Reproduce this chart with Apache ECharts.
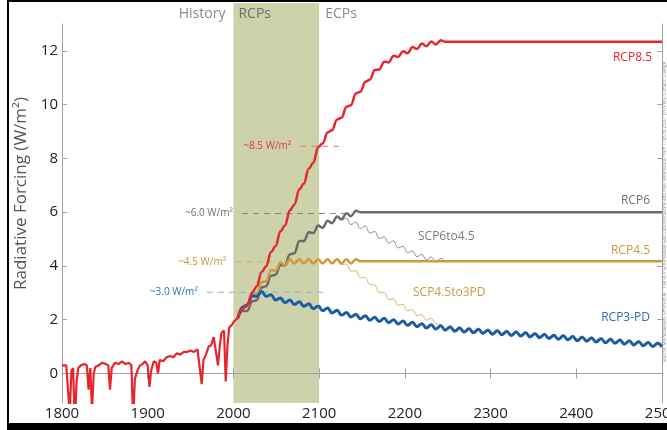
<!DOCTYPE html>
<html>
<head>
<meta charset="utf-8">
<script src="https://cdn.jsdelivr.net/npm/echarts@6/dist/echarts.min.js"></script>
<style>
  html, body { margin: 0; padding: 0; background: #fff; }
  #chart { width: 667px; height: 430px; }
</style>
</head>
<body>
<div id="chart"></div>
<script>
// historical forcing, 1800-2005
const histYears = [1800, 1805, 1807, 1809, 1811, 1813, 1815, 1817, 1819, 1822, 1826, 1829, 1831, 1833, 1835, 1837, 1839, 1843, 1847, 1851, 1854, 1856, 1858, 1862, 1866, 1870, 1874, 1878, 1881, 1883, 1885, 1888, 1891, 1894, 1897, 1900, 1902, 1904, 1907, 1910, 1912, 1914, 1918, 1922, 1926, 1930, 1934, 1938, 1942, 1946, 1950, 1954, 1958, 1960, 1963, 1965, 1968, 1971, 1974, 1977, 1979, 1982, 1984, 1986, 1989, 1991, 1993, 1995, 1998, 2001, 2003, 2005];
const histValues = [0.3, 0.3, 0.25, -1.5, 0.1, 0.2, -2.0, -0.3, 0.2, 0.3, 0.35, 0.3, -0.6, 0.2, -1.4, 0.0, 0.25, 0.3, 0.4, 0.35, 0.3, -0.6, 0.2, 0.4, 0.35, 0.45, 0.35, 0.4, 0.3, -1.8, -0.2, 0.1, 0.3, 0.35, 0.45, 0.3, -0.5, 0.1, 0.45, 0.4, 0.0, 0.5, 0.45, 0.6, 0.65, 0.6, 0.75, 0.7, 0.8, 0.8, 0.85, 0.8, 0.9, 0.85, -0.4, 0.5, 0.7, 1.0, 1.05, 1.35, 1.4, 0.3, 1.0, 1.5, 1.6, -0.3, 1.0, 1.7, 1.8, 1.95, 2.0, 2.05];

// scenario years (peaks and troughs of the solar cycle)
const cycleYears = [
  2005, 2011, 2016, 2022, 2027, 2033, 2038, 2044, 2049, 2055,
  2060, 2066, 2071, 2077, 2082, 2088, 2093, 2099, 2104, 2110,
  2115, 2121, 2126, 2132, 2137, 2143, 2148, 2154, 2159, 2165,
  2170, 2176, 2181, 2187, 2192, 2198, 2203, 2209, 2214, 2220,
  2225, 2231, 2236, 2242, 2247, 2253, 2258, 2264, 2269, 2275,
  2280, 2286, 2291, 2297, 2302, 2308, 2313, 2319, 2324, 2330,
  2335, 2341, 2346, 2352, 2357, 2363, 2368, 2374, 2379, 2385,
  2390, 2396, 2401, 2407, 2412, 2418, 2423, 2429, 2434, 2440,
  2445, 2451, 2456, 2462, 2467, 2473, 2478, 2484, 2489, 2495,
  2500
];

const rcp85Values = [
  2.05, 2.42, 2.53, 3.02, 3.23, 3.77, 3.98, 4.52, 4.73, 5.29,
  5.50, 6.07, 6.28, 6.85, 7.06, 7.62, 7.83, 8.42, 8.55, 8.97,
  9.05, 9.45, 9.51, 9.92, 9.98, 10.42, 10.48, 10.85, 10.93, 11.29,
  11.31, 11.60, 11.57, 11.82, 11.77, 11.99, 11.91, 12.14, 12.07, 12.27,
  12.17, 12.35, 12.24, 12.40, 12.34, 12.34, 12.34, 12.34, 12.34, 12.34,
  12.34, 12.34, 12.34, 12.34, 12.34, 12.34, 12.34, 12.34, 12.34, 12.34,
  12.34, 12.34, 12.34, 12.34, 12.34, 12.34, 12.34, 12.34, 12.34, 12.34,
  12.34, 12.34, 12.34, 12.34, 12.34, 12.34, 12.34, 12.34, 12.34, 12.34,
  12.34, 12.34, 12.34, 12.34, 12.34, 12.34, 12.34, 12.34, 12.34, 12.34,
  12.34
];

const rcp6Values = [
  2.05, 2.33, 2.32, 2.68, 2.72, 3.20, 3.24, 3.63, 3.67, 4.03,
  4.02, 4.43, 4.47, 4.93, 4.92, 5.25, 5.22, 5.50, 5.42, 5.68,
  5.59, 5.84, 5.74, 5.96, 5.85, 6.05, 6.00, 6.00, 6.00, 6.00,
  6.00, 6.00, 6.00, 6.00, 6.00, 6.00, 6.00, 6.00, 6.00, 6.00,
  6.00, 6.00, 6.00, 6.00, 6.00, 6.00, 6.00, 6.00, 6.00, 6.00,
  6.00, 6.00, 6.00, 6.00, 6.00, 6.00, 6.00, 6.00, 6.00, 6.00,
  6.00, 6.00, 6.00, 6.00, 6.00, 6.00, 6.00, 6.00, 6.00, 6.00,
  6.00, 6.00, 6.00, 6.00, 6.00, 6.00, 6.00, 6.00, 6.00, 6.00,
  6.00, 6.00, 6.00, 6.00, 6.00, 6.00, 6.00, 6.00, 6.00, 6.00,
  6.00
];

const rcp45Values = [
  2.05, 2.45, 2.48, 2.95, 2.95, 3.40, 3.42, 3.85, 3.82, 4.13,
  4.00, 4.25, 4.09, 4.25, 4.09, 4.25, 4.09, 4.25, 4.09, 4.25,
  4.09, 4.25, 4.09, 4.25, 4.09, 4.25, 4.17, 4.17, 4.17, 4.17,
  4.17, 4.17, 4.17, 4.17, 4.17, 4.17, 4.17, 4.17, 4.17, 4.17,
  4.17, 4.17, 4.17, 4.17, 4.17, 4.17, 4.17, 4.17, 4.17, 4.17,
  4.17, 4.17, 4.17, 4.17, 4.17, 4.17, 4.17, 4.17, 4.17, 4.17,
  4.17, 4.17, 4.17, 4.17, 4.17, 4.17, 4.17, 4.17, 4.17, 4.17,
  4.17, 4.17, 4.17, 4.17, 4.17, 4.17, 4.17, 4.17, 4.17, 4.17,
  4.17, 4.17, 4.17, 4.17, 4.17, 4.17, 4.17, 4.17, 4.17, 4.17,
  4.17
];

const rcp3pdValues = [
  2.05, 2.47, 2.55, 2.89, 2.86, 3.05, 2.87, 2.93, 2.73, 2.81,
  2.63, 2.73, 2.56, 2.67, 2.50, 2.59, 2.41, 2.51, 2.33, 2.43,
  2.25, 2.35, 2.17, 2.27, 2.10, 2.20, 2.03, 2.15, 1.98, 2.09,
  1.93, 2.05, 1.89, 2.00, 1.84, 1.95, 1.79, 1.90, 1.74, 1.85,
  1.69, 1.81, 1.65, 1.77, 1.61, 1.73, 1.57, 1.69, 1.54, 1.66,
  1.51, 1.64, 1.49, 1.61, 1.46, 1.59, 1.44, 1.56, 1.41, 1.54,
  1.39, 1.51, 1.36, 1.48, 1.33, 1.45, 1.30, 1.42, 1.27, 1.40,
  1.25, 1.37, 1.22, 1.35, 1.20, 1.32, 1.17, 1.29, 1.14, 1.27,
  1.12, 1.24, 1.09, 1.21, 1.06, 1.18, 1.03, 1.15, 1.00, 1.12,
  0.99
];

const scp6to45Values = [
  null, null, null, null, null, null, null, null, null, null,
  null, null, null, null, null, null, null, null, null, null,
  null, 5.84, 5.70, 5.78, 5.54, 5.63, 5.39, 5.48, 5.22, 5.28,
  5.02, 5.08, 4.84, 4.93, 4.67, 4.73, 4.49, 4.56, 4.34, 4.43,
  4.22, 4.33, 4.14, 4.28, 4.17, null, null, null, null, null,
  null, null, null, null, null, null, null, null, null, null,
  null, null, null, null, null, null, null, null, null, null,
  null, null, null, null, null, null, null, null, null, null,
  null, null, null, null, null, null, null, null, null, null,
  null
];

const scp45to3pdValues = [
  null, null, null, null, null, null, null, null, null, null,
  null, null, null, null, null, null, null, null, null, null,
  null, 4.25, 4.05, 4.07, 3.81, 3.82, 3.55, 3.57, 3.31, 3.29,
  3.01, 3.02, 2.75, 2.77, 2.53, 2.57, 2.33, 2.37, 2.15, 2.19,
  1.98, 2.05, 1.85, 1.82, 1.66, 1.78, 1.62, 1.74, 1.59, 1.71,
  1.56, 1.69, 1.54, 1.66, 1.51, 1.64, 1.49, 1.61, 1.46, 1.59,
  1.44, 1.56, 1.41, 1.53, 1.38, 1.50, 1.35, 1.47, 1.32, 1.45,
  1.30, 1.42, 1.27, 1.40, 1.25, 1.37, 1.22, 1.34, 1.19, 1.32,
  1.17, 1.29, 1.14, 1.26, 1.11, 1.23, 1.08, 1.20, 1.05, 1.17,
  1.04
];

// dashed reference levels
const refLabels = ['~8.5 W/m²', '~6.0 W/m²', '~4.5 W/m²', '~3.0 W/m²'];
const refValues = [8.45, 5.95, 4.15, 3.02];
const refFrom = [2078, 2010, 2002, 1969];
const refTo = [2127, 2130, 2057, 2110];

const periodBands = [[2000, 2100]];
const yTicks = [0, 2, 4, 6, 8, 10, 12];

const FONT = 'Open Sans';
const RED = '#e6262c';
const GRAY = '#6a6a6a';
const GOLD = '#cc9a3c';
const BLUE = '#1b5ca8';

const refStyles = [
  { line: '#ea7a7d', text: '#e0393e' },
  { line: '#7d8a94', text: '#6e6e6e' },
  { line: '#d8ad62', text: '#c8973a' },
  { line: '#86b4da', text: '#2f74b5' }
];

const toPairs = (years, values) =>
  years.map((y, i) => [y, values[i]]).filter(p => p[1] !== null && p[1] !== undefined);

const chart = echarts.init(document.getElementById('chart'), null, { renderer: 'canvas' });

const refSeries = refLabels.map((label, i) => ({
  type: 'line',
  silent: true,
  symbol: 'circle',
  symbolSize: 0,
  showSymbol: true,
  lineStyle: { color: refStyles[i].line, width: 1, type: [6, 5] },
  itemStyle: { color: refStyles[i].line },
  z: 2,
  data: [
    {
      value: [refFrom[i], refValues[i]],
      label: {
        show: true, position: 'left', distance: 9, formatter: label,
        color: refStyles[i].text, fontSize: 10, fontFamily: FONT
      }
    },
    { value: [refTo[i], refValues[i]], label: { show: false } }
  ]
}));

const wavy = (name, values, color, width, z) => ({
  name: name,
  type: 'line',
  silent: true,
  showSymbol: false,
  smooth: 0.4,
  smoothMonotone: 'x',
  lineStyle: { color: color, width: width },
  z: z,
  data: toPairs(cycleYears, values)
});

const option = {
  backgroundColor: '#ffffff',
  animation: false,
  textStyle: { fontFamily: FONT },
  grid: { left: 62, right: 5, top: 24, bottom: 27, containLabel: false, outerBoundsMode: 'none' },
  xAxis: [
    {
      type: 'value', min: 1800, max: 2500, interval: 100,
      axisLine: { lineStyle: { color: '#a3a3a3', width: 1 } },
      axisTick: { inside: true, length: 5, lineStyle: { color: '#a3a3a3' } },
      axisLabel: { color: '#222', fontSize: 15, fontFamily: FONT, margin: 3, formatter: v => String(v) },
      splitLine: { show: false }
    },
    {
      type: 'value', position: 'top', min: 1800, max: 2500, interval: 100,
      axisLine: { lineStyle: { color: '#a3a3a3', width: 1 } },
      axisTick: { inside: true, length: 5, lineStyle: { color: '#a3a3a3' } },
      axisLabel: { show: false },
      splitLine: { show: false }
    }
  ],
  yAxis: [
    {
      type: 'value', min: -1.1, max: 13,
      name: 'Radiative Forcing (W/m²)',
      nameLocation: 'middle', nameRotate: 90, nameGap: 21,
      nameTextStyle: { color: '#555', fontSize: 17, fontFamily: FONT, padding: [0, 0, 0, 40] },
      axisLine: { show: true, lineStyle: { color: '#a3a3a3', width: 1 } },
      axisTick: { show: true, inside: true, length: 5, customValues: yTicks, lineStyle: { color: '#a3a3a3' } },
      axisLabel: { color: '#222', fontSize: 15, fontFamily: FONT, margin: 4, customValues: yTicks },
      splitLine: { show: false }
    },
    {
      type: 'value', position: 'right', min: -1.1, max: 13,
      axisLine: { show: true, lineStyle: { color: '#a3a3a3', width: 1 } },
      axisTick: { show: true, inside: true, length: 5, customValues: yTicks, lineStyle: { color: '#a3a3a3' } },
      axisLabel: { show: false },
      splitLine: { show: false }
    }
  ],
  series: [
    {
      type: 'custom',
      silent: true,
      clip: false,
      z: 0,
      encode: { x: [0, 1] },
      data: periodBands,
      renderItem: (params, api) => {
        const p0 = api.coord([api.value(0), -1.1]);
        const p1 = api.coord([api.value(1), 13]);
        const top = p1[1] - 21;
        return {
          type: 'group',
          children: [
            {
              type: 'rect',
              shape: { x: p0[0], y: top, width: p1[0] - p0[0], height: p0[1] - top },
              style: { fill: '#ced2aa' }
            },
            {
              type: 'text',
              style: { text: 'History', x: p0[0] - 8, y: p1[1] - 10, align: 'right', verticalAlign: 'middle', fill: '#8a8a8a', fontSize: 14, fontFamily: FONT }
            },
            {
              type: 'text',
              style: { text: 'RCPs', x: p0[0] + 5, y: p1[1] - 10, align: 'left', verticalAlign: 'middle', fill: '#707070', fontSize: 14, fontFamily: FONT }
            },
            {
              type: 'text',
              style: { text: 'ECPs', x: p1[0] + 6, y: p1[1] - 10, align: 'left', verticalAlign: 'middle', fill: '#8a8a8a', fontSize: 14, fontFamily: FONT }
            }
          ]
        };
      }
    },
    ...refSeries,
    wavy('SCP4.5to3PD', scp45to3pdValues, '#dbb571', 1, 3),
    wavy('SCP6to4.5', scp6to45Values, '#8c8c8c', 1, 3),
    wavy('RCP6', rcp6Values, GRAY, 2.5, 4),
    wavy('RCP4.5', rcp45Values, GOLD, 2.5, 5),
    wavy('RCP3-PD', rcp3pdValues, BLUE, 3, 6),
    {
      name: 'History',
      type: 'line',
      silent: true,
      showSymbol: false,
      lineStyle: { color: RED, width: 2.2 },
      z: 7,
      data: toPairs(histYears, histValues)
    },
    wavy('RCP8.5', rcp85Values, RED, 2.5, 7)
  ],
  graphic: [
    // photo frame
    { type: 'rect', shape: { x: 7, y: 0, width: 2, height: 430 }, style: { fill: '#000' }, z: 100 },
    { type: 'rect', shape: { x: 7, y: 0, width: 660, height: 2 }, style: { fill: '#000' }, z: 100 },
    { type: 'rect', shape: { x: 7, y: 423, width: 660, height: 7 }, style: { fill: '#000' }, z: 100 },
    // scenario labels
    { type: 'text', style: { text: 'RCP8.5', x: 652, y: 58, align: 'right', verticalAlign: 'middle', fill: RED, fontSize: 12, fontFamily: FONT } },
    { type: 'text', style: { text: 'RCP6', x: 650, y: 201, align: 'right', verticalAlign: 'middle', fill: '#6f6f6f', fontSize: 12, fontFamily: FONT } },
    { type: 'text', style: { text: 'SCP6to4.5', x: 418, y: 237, align: 'left', verticalAlign: 'middle', fill: '#7a7a7a', fontSize: 12, fontFamily: FONT } },
    { type: 'text', style: { text: 'RCP4.5', x: 650, y: 251, align: 'right', verticalAlign: 'middle', fill: GOLD, fontSize: 12, fontFamily: FONT } },
    { type: 'text', style: { text: 'SCP4.5to3PD', x: 413, y: 293, align: 'left', verticalAlign: 'middle', fill: GOLD, fontSize: 12, fontFamily: FONT } },
    { type: 'text', style: { text: 'RCP3-PD', x: 650, y: 318, align: 'right', verticalAlign: 'middle', fill: '#2a6db3', fontSize: 12, fontFamily: FONT } },
    // source note along the right edge
    {
      type: 'text', x: 665, y: 212, rotation: Math.PI / 2,
      style: {
        text: 'Source: Meinshausen, Smith et al. "The RCP Greenhouse Gas Concentrations and their extensions from 1765 to 2300" (in prep), Climatic Change',
        align: 'center', verticalAlign: 'middle', fill: '#8a8a8a', fontSize: 4.5, fontFamily: FONT
      }
    }
  ]
};

chart.setOption(option);
</script>
</body>
</html>
